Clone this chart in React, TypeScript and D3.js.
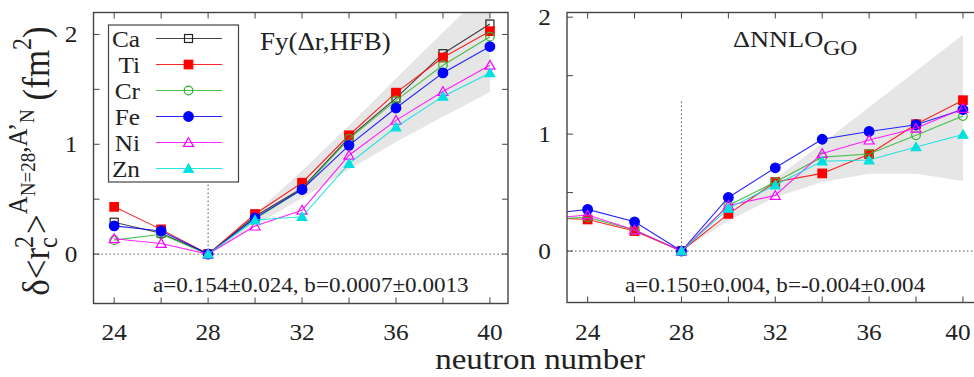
import React from 'react';
import * as d3 from 'd3';

const W = 974;
const H = 377;
const FONT = '"Liberation Serif", "Times New Roman", serif';
const SX = 1.1; // glyphs in the picture are slightly wide

// neutron numbers
const neutronFy = [24, 26, 28, 30, 32, 34, 36, 38, 40];
const neutronGO = [22, 24, 26, 28, 30, 32, 34, 36, 38, 40];
const bandN = [28, 30, 32, 34, 36, 38, 40];

// Fy(Δr,HFB) panel
const caFy = [0.29, 0.19, 0, 0.345, 0.6, 1.06, 1.42, 1.825, 2.095];
const tiFy = [0.43, 0.225, 0, 0.365, 0.65, 1.082, 1.47, 1.79, 2.03];
const crFy = [0.127, 0.18, 0, 0.32, 0.59, 1.05, 1.4, 1.72, 1.98];
const feFy = [0.257, 0.21, 0, 0.33, 0.588, 0.99, 1.33, 1.65, 1.89];
const niFy = [0.14, 0.097, 0, 0.255, 0.4, 0.9, 1.218, 1.48, 1.72];
const znFy = [null, null, 0, 0.31, 0.34, 0.824, 1.157, 1.436, 1.65];
const bandFyLo = [0, 0.26, 0.51, 0.77, 1.02, 1.25, 1.475];
const bandFyHi = [0, 0.37, 0.76, 1.17, 1.6, 2.02, 2.43];

// ΔNNLO_GO panel
const tiGO = [0.29, 0.27, 0.171, 0, 0.318, 0.59, 0.664, 0.828, 1.085, 1.29];
const crGO = [0.27, 0.288, 0.18, 0, 0.39, 0.59, 0.803, 0.83, 0.99, 1.154];
const feGO = [0.31, 0.356, 0.25, 0, 0.458, 0.712, 0.956, 1.023, 1.08, 1.21];
const niGO = [0.275, 0.308, 0.18, 0, 0.39, 0.475, 0.835, 0.949, 1.05, 1.22];
const znGO = [null, null, null, 0, 0.365, 0.564, 0.768, 0.778, 0.89, 0.997];
const bandGOLo = [0, 0.26, 0.46, 0.59, 0.66, 0.66, 0.6];
const bandGOHi = [0, 0.31, 0.62, 0.92, 1.23, 1.54, 1.85];

const xTicks = [24, 26, 28, 30, 32, 34, 36, 38, 40];
const xTickLabels = [24, 28, 32, 36, 40];
const yTicks = [0, 0.5, 1, 1.5, 2];
const yTickLabels = [0, 1, 2];

type Shape = 'square' | 'circle' | 'triangle';
interface Elem { name: string; color: string; shape: Shape; filled: boolean; }

const elements: Elem[] = [
  { name: 'Ca', color: '#222222', shape: 'square', filled: false },
  { name: 'Ti', color: '#ff0000', shape: 'square', filled: true },
  { name: 'Cr', color: '#2fb62f', shape: 'circle', filled: false },
  { name: 'Fe', color: '#0000ff', shape: 'circle', filled: true },
  { name: 'Ni', color: '#ff00ff', shape: 'triangle', filled: false },
  { name: 'Zn', color: '#00e0e0', shape: 'triangle', filled: true },
];

const Marker = ({ el, x, y }: { el: Elem; x: number; y: number }) => {
  const fill = el.filled ? el.color : 'none';
  if (el.shape === 'square') {
    const s = el.filled ? 8.5 : 8;
    return <rect x={x - s / 2} y={y - s / 2} width={s} height={s} fill={fill} stroke={el.color} strokeWidth={1.2} />;
  }
  if (el.shape === 'circle') {
    return <circle cx={x} cy={y} r={el.filled ? 4.8 : 4.3} fill={fill} stroke={el.color} strokeWidth={1.2} />;
  }
  const tri = d3.symbol().type(d3.symbolTriangle).size(el.filled ? 40 : 44)();
  return <path d={tri || ''} transform={`translate(${x},${y + 1})`} fill={fill} stroke={el.color} strokeWidth={1.2} />;
};

interface Series { el: Elem; values: (number | null)[]; }

interface PanelProps {
  id: string;
  left: number;
  right: number;
  top: number;
  bottom: number;
  yDomain: [number, number];
  ns: number[];
  series: Series[];
  bandLo: number[];
  bandHi: number[];
  title: React.ReactNode;
  note: string;
  noteX: number;
  legend?: boolean;
}

const Panel = (p: PanelProps) => {
  const x = d3.scaleLinear().domain([23.12, 40.77]).range([p.left, p.right]);
  const y = d3.scaleLinear().domain(p.yDomain).range([p.bottom, p.top]);
  const line = d3.line<[number, number | null]>()
    .defined(d => d[1] !== null)
    .x(d => x(d[0]))
    .y(d => y(d[1] as number));
  const area = d3.area<number>()
    .x(n => x(n))
    .y0((_, i) => y(p.bandLo[i]))
    .y1((_, i) => y(p.bandHi[i]));
  const tick = 6;
  const frameColor = '#444';
  return (
    <g>
      <defs>
        <clipPath id={`clip-${p.id}`}>
          <rect x={p.left} y={p.top} width={p.right - p.left} height={p.bottom - p.top} />
        </clipPath>
      </defs>
      <g clipPath={`url(#clip-${p.id})`}>
        <path d={area(bandN) || ''} fill="#e6e6e6" />
        <line x1={p.left} x2={p.right} y1={y(0)} y2={y(0)} stroke="#555" strokeWidth={1} strokeDasharray="1.5,2.5" />
        <line x1={x(28)} x2={x(28)} y1={y(0)} y2={y(1.28)} stroke="#555" strokeWidth={1} strokeDasharray="1.5,2.5" />
        {p.series.map(s => (
          <g key={s.el.name}>
            <path d={line(p.ns.map((n, i) => [n, s.values[i]] as [number, number | null])) || ''}
              fill="none" stroke={s.el.color} strokeWidth={1.1} strokeOpacity={0.85} />
            {p.ns.map((n, i) => s.values[i] === null ? null : (
              <Marker key={n} el={s.el} x={x(n)} y={y(s.values[i] as number)} />
            ))}
          </g>
        ))}
      </g>
      {/* frame and ticks */}
      <rect x={p.left} y={p.top} width={p.right - p.left} height={p.bottom - p.top} fill="none" stroke={frameColor} strokeWidth={1.4} />
      {xTicks.map(t => (
        <g key={t}>
          <line x1={x(t)} x2={x(t)} y1={p.bottom} y2={p.bottom - tick} stroke={frameColor} strokeWidth={1} />
          <line x1={x(t)} x2={x(t)} y1={p.top} y2={p.top + tick} stroke={frameColor} strokeWidth={1} />
        </g>
      ))}
      {yTicks.filter(t => t >= p.yDomain[0] && t <= p.yDomain[1] + 0.1).map(t => (
        <g key={t}>
          <line x1={p.left} x2={p.left + tick} y1={y(t)} y2={y(t)} stroke={frameColor} strokeWidth={1} />
          <line x1={p.right} x2={p.right - tick} y1={y(t)} y2={y(t)} stroke={frameColor} strokeWidth={1} />
        </g>
      ))}
      {xTickLabels.map(t => (
        <text key={t} transform={`translate(${Math.min(x(t), 958)},340) scale(${SX},1)`} textAnchor="middle" fontSize={23} fontFamily={FONT} fill="#222">{t}</text>
      ))}
      {yTickLabels.map(t => (
        <text key={t} transform={`translate(${p.left - 16},${y(t) + 7.7}) scale(${SX},1)`} textAnchor="end" fontSize={23} fontFamily={FONT} fill="#222">{t}</text>
      ))}
      {p.title}
      <text transform={`translate(${p.noteX},292) scale(${SX},1)`} fontSize={21} fontFamily={FONT} fill="#222">{p.note}</text>
      {p.legend && (
        <g>
          <rect x={108.5} y={25} width={130} height={157} fill="#fff" stroke={frameColor} strokeWidth={1.2} />
          {elements.map((el, i) => {
            const cy = 38.5 + i * 26;
            return (
              <g key={el.name}>
                <text transform={`translate(140,${cy + 8}) scale(${SX},1)`} textAnchor="end" fontSize={23} fontFamily={FONT} fill="#222">{el.name}</text>
                <line x1={156} x2={222} y1={cy} y2={cy} stroke={el.color} strokeWidth={1.1} strokeOpacity={0.85} />
                <Marker el={el} x={188.5} y={cy} />
              </g>
            );
          })}
        </g>
      )}
    </g>
  );
};

export default function App() {
  const fySeries: Series[] = [
    { el: elements[0], values: caFy },
    { el: elements[1], values: tiFy },
    { el: elements[2], values: crFy },
    { el: elements[3], values: feFy },
    { el: elements[4], values: niFy },
    { el: elements[5], values: znFy },
  ];
  const goSeries: Series[] = [
    { el: elements[1], values: tiGO },
    { el: elements[2], values: crGO },
    { el: elements[3], values: feGO },
    { el: elements[4], values: niGO },
    { el: elements[5], values: znGO },
  ];
  return (
    <svg width={W} height={H} style={{ position: 'absolute', left: 0, top: 0, background: '#fff' }}>
      <rect width={W} height={H} fill="#fff" />
      <Panel
        id="fy" left={93.5} right={508} top={12.5} bottom={303.5} yDomain={[-0.45, 2.2]}
        ns={neutronFy} series={fySeries} bandLo={bandFyLo} bandHi={bandFyHi}
        title={<text transform={`translate(260,50) scale(${SX},1)`} fontSize={24.5} fontFamily={FONT} fill="#222">Fy(Δr,HFB)</text>}
        note="a=0.154±0.024, b=0.0007±0.0013" noteX={153} legend
      />
      <Panel
        id="go" left={567} right={981} top={12.5} bottom={302.5} yDomain={[-0.44, 2.04]}
        ns={neutronGO} series={goSeries} bandLo={bandGOLo} bandHi={bandGOHi}
        title={
          <text transform={`translate(733,47) scale(${SX},1)`} fontSize={24} fontFamily={FONT} fill="#222">
            ΔNNLO<tspan fontSize={21.5} dy={8}>GO</tspan>
          </text>
        }
        note="a=0.150±0.004, b=-0.004±0.004" noteX={625}
      />
      <text transform={`translate(540,369) scale(${SX},1)`} textAnchor="middle" fontSize={30} fontFamily={FONT} fill="#222">neutron number</text>
      <text transform={`translate(49,161) scale(${SX},1) rotate(-90)`} textAnchor="middle" fontSize={35} fontFamily={FONT} fill="#222">
        δ&lt;r<tspan fontSize={24} dy={7}>c</tspan>
        <tspan fontSize={24} dx={-10.7} dy={-22}>2</tspan>
        <tspan fontSize={35} dx={2} dy={15}>&gt;</tspan>
        <tspan fontSize={25} dy={-20}>A</tspan>
        <tspan fontSize={19} dy={7}>N=28</tspan>
        <tspan fontSize={25} dy={-7}>,A’</tspan>
        <tspan fontSize={19} dy={6}>N</tspan>
        <tspan fontSize={35} dy={14}> (fm</tspan>
        <tspan fontSize={24} dy={-16}>2</tspan>
        <tspan fontSize={35} dy={16}>)</tspan>
      </text>
    </svg>
  );
}
